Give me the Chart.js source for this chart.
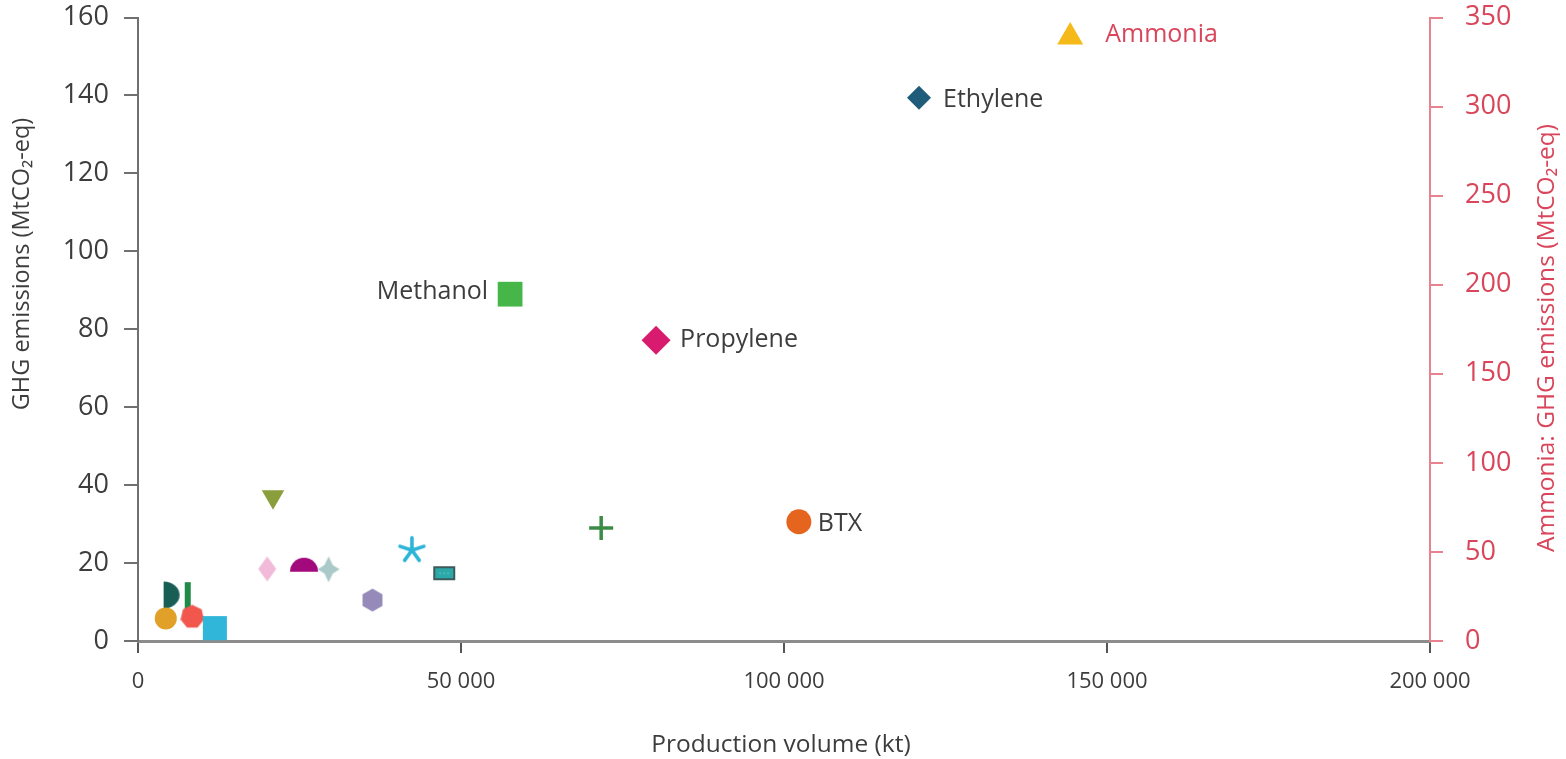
<!DOCTYPE html>
<html>
<head>
<meta charset="utf-8">
<script src="https://cdn.jsdelivr.net/npm/chart.js@4.4.1/dist/chart.umd.min.js"></script>
<style>
  html, body { margin: 0; padding: 0; background: #ffffff; }
  #wrap { position: relative; width: 1566px; height: 759px; }
</style>
</head>
<body>
<div id="wrap"><canvas id="chart" width="1566" height="759"></canvas></div>
<script>
// Chemicals: production volume (kt) vs GHG emissions (MtCO2-eq)
const pointNames  = ['Cyan square', 'Red hexagon', 'Orange circle', 'Green bar', 'Teal half-disc',
                     'Pink diamond', 'Olive triangle', 'Purple dome', 'Grey sparkle', 'Lavender hexagon',
                     'Cyan asterisk', 'Teal box', 'Green cross', 'BTX', 'Propylene', 'Methanol', 'Ethylene'];
const pointLabels = ['', '', '', '', '', '', '', '', '', '', '', '', '', 'BTX', 'Propylene', 'Methanol', 'Ethylene'];
const production  = [11900, 8400, 4300, 7700, 5200, 20000, 20900, 25700, 29500, 36300,
                     42400, 47400, 71700, 102300, 80200, 57600, 120900];
const emissions   = [3.3, 6.2, 5.8, 11.5, 11.8, 18.5, 37.0, 19.7, 18.4, 10.5,
                     23.3, 17.4, 29.0, 30.6, 77.2, 89.0, 139.4];

// Ammonia is read against the right-hand axis
const ammoniaLabel      = 'Ammonia';
const ammoniaProduction = 144300;
const ammoniaEmissions  = 339;

const xTicks      = [0, 50000, 100000, 150000, 200000];
const yTicksLeft  = [0, 20, 40, 60, 80, 100, 120, 140, 160];
const yTicksRight = [0, 50, 100, 150, 200, 250, 300, 350];

// ---- marker styling ----
function shape(w, h, draw) {
  const c = document.createElement('canvas');
  c.width = w; c.height = h;
  draw(c.getContext('2d'), w, h);
  return c;
}
function polygon(ctx, cx, cy, r, n, startDeg) {
  ctx.beginPath();
  for (let i = 0; i < n; i++) {
    const a = (startDeg + i * 360 / n) * Math.PI / 180;
    const px = cx + r * Math.cos(a), py = cy + r * Math.sin(a);
    i ? ctx.lineTo(px, py) : ctx.moveTo(px, py);
  }
  ctx.closePath();
}
const hexLavender = shape(22, 24, (c, w, h) => { c.fillStyle = '#958ab9'; polygon(c, w/2, h/2, 11.5, 6, -90); c.fill(); });
const hexRed = shape(24, 25, (c, w, h) => { c.fillStyle = '#f2574e'; polygon(c, w/2, h/2, 12, 7, -90); c.fill(); });
const sparkle = shape(24, 28, (c, w, h) => {
  c.fillStyle = '#a9cac8';
  const cx = w/2, cy = h/2, k = 4.2;
  c.beginPath();
  c.moveTo(cx, 1); c.lineTo(cx + k, cy - k); c.lineTo(w - 1, cy); c.lineTo(cx + k, cy + k);
  c.lineTo(cx, h - 1); c.lineTo(cx - k, cy + k); c.lineTo(1, cy); c.lineTo(cx - k, cy - k);
  c.closePath(); c.fill();
});
const dome = shape(30, 17, (c, w, h) => {
  c.fillStyle = '#a1097c';
  c.beginPath(); c.arc(w/2, h - 1, 14, Math.PI, 2 * Math.PI); c.closePath(); c.fill();
});
const thinDiamond = shape(20, 27, (c, w, h) => {
  c.fillStyle = '#f1bad8';
  c.beginPath(); c.moveTo(w/2, 1); c.lineTo(w - 1, h/2); c.lineTo(w/2, h - 1); c.lineTo(1, h/2); c.closePath(); c.fill();
});
const halfDisc = shape(18, 28, (c, w, h) => {
  c.fillStyle = '#185e55';
  c.beginPath(); c.ellipse(1, h/2, 16, 13.5, 0, -Math.PI/2, Math.PI/2); c.closePath(); c.fill();
});
const bar = shape(8, 30, (c, w, h) => { c.fillStyle = '#1f8b46'; c.fillRect(1, 1, 6, 28); });
const asterisk = shape(30, 30, (c, w, h) => {
  c.strokeStyle = '#2db5d9'; c.lineWidth = 3.6; c.lineCap = 'round';
  c.beginPath();
  for (let i = 0; i < 5; i++) {
    const a = (-90 + i * 72) * Math.PI / 180;
    c.moveTo(w/2, h/2); c.lineTo(w/2 + 12.5 * Math.cos(a), h/2 + 12.5 * Math.sin(a));
  }
  c.stroke();
});
const tealBox = shape(24, 16, (c, w, h) => {
  c.fillStyle = '#2ba8a8'; c.strokeStyle = '#3d5959'; c.lineWidth = 2;
  c.fillRect(2, 2, w - 4, h - 4); c.strokeRect(2, 2, w - 4, h - 4);
  c.strokeStyle = 'rgba(255,255,255,0.35)'; c.lineWidth = 1; c.setLineDash([2, 2]);
  c.beginPath(); c.moveTo(7, h/2); c.lineTo(w - 7, h/2); c.stroke();
});

const markerStyles = [
  { pointStyle: 'rect', radius: 17, color: '#2fb6d9' },
  { pointStyle: hexRed, radius: 10, color: '#f2574e' },
  { pointStyle: 'circle', radius: 11, color: '#e1a027' },
  { pointStyle: bar, radius: 10, color: '#1f8b46' },
  { pointStyle: halfDisc, radius: 10, color: '#185e55' },
  { pointStyle: thinDiamond, radius: 10, color: '#f1bad8' },
  { pointStyle: 'triangle', radius: 13, color: '#8a9e3b', rotation: 180 },
  { pointStyle: dome, radius: 10, color: '#a1097c' },
  { pointStyle: sparkle, radius: 10, color: '#a9cac8' },
  { pointStyle: hexLavender, radius: 10, color: '#958ab9' },
  { pointStyle: asterisk, radius: 10, color: '#2db5d9' },
  { pointStyle: tealBox, radius: 10, color: '#2ba8a8' },
  { pointStyle: 'cross', radius: 12, color: '#3b8c47', borderWidth: 3.5 },
  { pointStyle: 'circle', radius: 12.5, color: '#e5651e' },
  { pointStyle: 'rectRot', radius: 14.5, color: '#d81b6e' },
  { pointStyle: 'rect', radius: 17.5, color: '#46b649' },
  { pointStyle: 'rectRot', radius: 12, color: '#1e5c79' }
];

const datasets = production.map((x, i) => {
  const s = markerStyles[i];
  return {
    label: pointNames[i],
    data: [{ x: x, y: emissions[i] }],
    yAxisID: 'y',
    pointStyle: s.pointStyle,
    pointRadius: s.radius,
    pointRotation: s.rotation || 0,
    backgroundColor: s.color,
    borderColor: s.color,
    borderWidth: s.borderWidth || 0,
    clip: false
  };
});
datasets.unshift({
  label: ammoniaLabel,
  data: [{ x: ammoniaProduction, y: ammoniaEmissions }],
  yAxisID: 'y2',
  pointStyle: 'triangle',
  pointRadius: 15,
  backgroundColor: '#f6b91a',
  borderColor: '#f6b91a',
  borderWidth: 0,
  clip: false
});
const allLabels = [ammoniaLabel].concat(pointLabels);

const FONT = "'Open Sans', 'DejaVu Sans', sans-serif";
const TEXT = '#3d3d3d';
const RED = '#d9455a';
const fmt = v => String(v).replace(/\B(?=(\d{3})+(?!\d))/g, ' ');

// Point captions and axis titles
const annotate = {
  id: 'annotate',
  afterDatasetsDraw(chart) {
    const ctx = chart.ctx;
    const offsets = { Ammonia: [35, -2, 'left'], Ethylene: [24, 2, 'left'], Methanol: [-22, -2, 'right'],
                      Propylene: [24, 0, 'left'], BTX: [19, 2, 'left'] };
    ctx.save();
    ctx.font = '25px ' + FONT;
    ctx.textBaseline = 'middle';
    allLabels.forEach((name, i) => {
      if (!name) return;
      const p = chart.getDatasetMeta(i).data[0];
      const o = offsets[name];
      ctx.fillStyle = name === ammoniaLabel ? RED : TEXT;
      ctx.textAlign = o[2];
      ctx.fillText(name, p.x + o[0], p.y + o[1]);
    });
    ctx.restore();
  },
  afterDraw(chart) {
    const ctx = chart.ctx;
    ctx.save();
    ctx.textAlign = 'center';
    ctx.textBaseline = 'middle';
    ctx.fillStyle = TEXT;
    ctx.font = '24.5px ' + FONT;
    ctx.fillText('Production volume (kt)', 781, 745);
    ctx.font = '23.5px ' + FONT;
    ctx.translate(22, 264); ctx.rotate(-Math.PI / 2);
    ctx.fillText('GHG emissions (MtCO\u2082-eq)', 0, 0);
    ctx.restore();
    ctx.save();
    ctx.font = '24.5px ' + FONT;
    ctx.textAlign = 'center';
    ctx.textBaseline = 'middle';
    ctx.fillStyle = RED;
    ctx.translate(1547, 338); ctx.rotate(-Math.PI / 2);
    ctx.fillText('Ammonia: GHG emissions (MtCO\u2082-eq)', 0, 0);
    ctx.restore();
  }
};

// fixed axis boxes so the plot area spans x 138–1430, y 17–641
const fixBox = (w, h) => s => {
  if (w !== null) s.width = w;
  if (h !== null) s.height = h;
  s.paddingTop = 0; s.paddingBottom = 0; s.paddingLeft = 0; s.paddingRight = 0;
};

new Chart(document.getElementById('chart'), {
  type: 'scatter',
  data: { datasets },
  options: {
    responsive: false,
    animation: false,
    events: [],
    layout: { padding: { top: 17, left: 0, right: 0, bottom: 0 } },
    plugins: { legend: { display: false }, tooltip: { enabled: false } },
    scales: {
      x: {
        type: 'linear', min: 0, max: 200000,
        afterFit: fixBox(null, 118),
        afterBuildTicks: s => { s.ticks = xTicks.map(v => ({ value: v })); },
        border: { display: true, color: '#8c8c8c', width: 3 },
        grid: { drawOnChartArea: false, drawTicks: true, tickLength: 12, color: '#555555', lineWidth: 2 },
        ticks: { color: TEXT, font: { family: FONT, size: 22 }, padding: 16, maxRotation: 0, callback: v => fmt(v) }
      },
      y: {
        type: 'linear', position: 'left', min: 0, max: 160,
        afterFit: fixBox(138, null),
        afterBuildTicks: s => { s.ticks = yTicksLeft.map(v => ({ value: v })); },
        border: { display: true, color: '#707070', width: 2 },
        grid: { drawOnChartArea: false, drawTicks: true, tickLength: 14, color: '#707070', lineWidth: 2 },
        ticks: { color: TEXT, font: { family: FONT, size: 27 }, padding: 15 }
      },
      y2: {
        type: 'linear', position: 'right', min: 0, max: 350,
        afterFit: fixBox(136, null),
        afterBuildTicks: s => { s.ticks = yTicksRight.map(v => ({ value: v })); },
        border: { display: true, color: '#e8828f', width: 2 },
        grid: { drawOnChartArea: false, drawTicks: true, tickLength: 13, color: '#e8828f', lineWidth: 2 },
        ticks: { color: RED, font: { family: FONT, size: 27 }, padding: 22 }
      }
    }
  },
  plugins: [annotate]
});
</script>
</body>
</html>
